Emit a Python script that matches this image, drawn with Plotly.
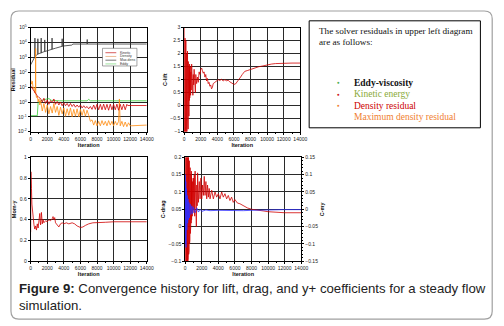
import plotly.graph_objects as go

W, H = 504, 326
OFF = 8  # page body margin offset

# ---------------- data ----------------
iter_ticks = [0, 2000, 4000, 6000, 8000, 10000, 12000, 14000]
res_tickvals = [0.01, 0.1, 1, 10, 100, 1000, 10000, 100000]
res_ticktext = ["10<sup>-2</sup>", "10<sup>-1</sup>", "10<sup>0</sup>", "10<sup>1</sup>",
                "10<sup>2</sup>", "10<sup>3</sup>", "10<sup>4</sup>", "10<sup>5</sup>"]

# top-left: residuals (log scale)
res_x = [0, 200, 400, 600, 800, 1000, 1200, 1400, 1600, 1800,
         2000, 2200, 2400, 2600, 2800, 3000, 3200, 3400, 3600, 3800,
         4000, 4200, 4400, 4600, 4800, 5000, 5200, 5400, 5600, 5800,
         6000, 6200, 6400, 6600, 6800, 7000, 7200, 7400, 7600, 7800,
         8000, 8200, 8400, 8600, 8800, 9000, 9200, 9400, 9600, 9800,
         10000, 10200, 10400, 10600, 10800, 11000, 11200, 11400, 11600, 11700,
         14000]
kinetic_res = [12, 8, 5.6, 4, 2.6, 2.0, 1.7, 1.0, 1.8, 0.8,
               1.4, 0.7, 1.26, 0.9, 1.6, 0.7, 1.1, 0.63, 1.0, 0.56,
               0.9, 0.56, 0.8, 0.5, 0.8, 0.5, 0.7, 0.45, 0.63, 0.45,
               0.63, 0.4, 0.56, 0.4, 0.5, 0.35, 0.5, 0.32, 0.63, 0.32,
               0.7, 0.3, 0.7, 0.3, 0.72, 0.3, 0.7, 0.28, 0.72, 0.3,
               0.7, 0.3, 0.72, 0.28, 0.7, 0.3, 0.72, 0.3, 0.7, 0.58,
               0.58]

den_x = [0, 100, 200, 300, 400, 500, 580, 600, 620, 700,
         800, 900, 1000, 1100, 1200, 1400, 1600, 1800, 2000, 2200,
         2400, 2600, 2800, 3000, 3200, 3400, 3600, 3800, 4000, 4200,
         4400, 4600, 4800, 5000, 5200, 5400, 5600, 5800, 6000, 6200,
         6400, 6600, 6800, 7000, 7200, 7400, 7600, 7800, 8000, 8200,
         8400, 8600, 8800, 9000, 9200, 9400, 9600, 9800, 10000, 10200,
         10400, 10600, 10700, 10800, 11000, 11200, 11400, 11600, 11800, 12000,
         14000]
density_res = [32, 16, 25, 8, 10, 4, 5, 4000, 4, 2,
               2.5, 1.0, 1.6, 0.63, 1.26, 0.25, 0.8, 0.2, 0.63, 0.16,
               0.5, 0.18, 0.8, 0.2, 0.5, 0.126, 0.45, 0.16, 0.4, 0.11,
               0.35, 0.126, 0.4, 0.1, 0.32, 0.11, 0.35, 0.1, 0.32, 0.126,
               0.32, 0.11, 0.28, 0.126, 0.05, 0.063, 0.028, 0.056, 0.025, 0.05,
               0.025, 0.056, 0.028, 0.05, 0.025, 0.056, 0.028, 0.05, 0.025, 0.05,
               0.028, 0.05, 1.6, 0.025, 0.05, 0.022, 0.045, 0.022, 0.04, 0.025,
               0.028]

eddy_x = [0, 700, 800, 900, 1000, 1500, 2000, 2200, 2500, 3500, 6800, 7000, 7200, 14000]
eddy_res = [0.12, 0.12, 0.12, 0.9, 1.0, 1.4, 1.6, 1.7, 1.3, 1.2, 1.2, 1.5, 1.2, 1.2]

max_x = [0, 200, 400, 515, 515, 515, 700, 870, 870, 870,
         1000, 1270, 1270, 1270, 1500, 1700, 1700, 1700, 2000, 2580,
         2580, 2580, 3000, 3570, 3800, 3800, 3800, 4000, 4500, 4960,
         5100, 6820, 6820, 6820, 14000]
max_res = [316, 560, 890, 1120, 20000, 1120, 1400, 1660, 18000, 1660,
           1820, 2000, 20000, 2000, 2300, 2500, 15000, 2500, 2800, 3550,
           20000, 3550, 4170, 5250, 5600, 18000, 5600, 5900, 6300, 6760,
           7940, 7940, 16000, 7940, 7940]

legend_names = ["Kinetic", "Density", "Max.dens", "Eddy"]

# top-right: lift coefficient
cl_x = [0, 25, 50, 75, 100, 125, 150, 175, 200, 225,
        250, 275, 300, 325, 350, 375, 400, 425, 450, 475,
        500, 525, 550, 575, 600, 625, 650, 675, 700, 725,
        750, 775, 800, 850, 900, 950, 1000, 1050, 1100, 1150,
        1200, 1250, 1300, 1350, 1400, 1500, 1600, 1700, 1800, 1900,
        2000, 2100, 2200, 2300, 2400, 2500, 2600, 2700, 2800, 2900,
        3000, 3100, 3200, 3300, 3400, 3500, 3700, 3900, 4100, 4300,
        4500, 4700, 4900, 5100, 5300, 5500, 5800, 6000, 6200, 6500,
        6800, 7000, 7300, 7600, 8000, 8500, 9000, 9500, 10000, 10500,
        11000, 11500, 12000, 13000, 14000]
cl_y = [3.0, -1.0, 2.8, -0.9, 2.6, -1.0, 2.3, -0.8, 2.5, -1.0,
        2.1, -0.6, 2.0, -1.0, 1.9, -0.5, 2.1, -0.3, 1.8, -0.9,
        1.7, 0.0, 1.6, -0.4, 1.5, 0.2, 1.6, 0.3, 1.4, 0.5,
        1.5, 0.4, 1.3, 0.6, 1.6, 0.7, 1.3, 0.4, 1.2, 0.8,
        1.4, 0.7, 1.1, 0.5, 1.2, 0.85, 1.1, 0.9, 1.3, 1.2,
        1.4, 1.45, 1.35, 1.25, 1.3, 1.1, 1.2, 0.95, 1.05, 0.85,
        0.9, 0.75, 0.8, 0.65, 0.7, 0.85, 0.9, 0.95, 1.0, 0.97,
        1.02, 0.95, 1.0, 0.96, 0.98, 0.92, 0.87, 0.82, 0.84, 0.95,
        1.1, 1.2, 1.32, 1.35, 1.4, 1.46, 1.5, 1.53, 1.57, 1.6,
        1.62, 1.63, 1.64, 1.64, 1.64]

# bottom-left: moment
my_x = [0, 30, 60, 100, 150, 200, 300, 400, 500, 600,
        700, 800, 900, 1000, 1100, 1150, 1200, 1300, 1400, 1500,
        1600, 1800, 2000, 2200, 2400, 2600, 2700, 2800, 2900, 3000,
        3200, 3400, 3600, 3800, 4000, 4300, 4600, 5000, 5300, 5600,
        6000, 6300, 6600, 7000, 7500, 8000, 9000, 10000, 12000, 14000]
my_y = [0.28, 0.86, 0.6, 0.7, 0.55, 0.5, 0.42, 0.35, 0.31, 0.34,
        0.30, 0.36, 0.32, 0.42, 0.46, 0.38, 0.35, 0.47, 0.36, 0.40,
        0.37, 0.39, 0.38, 0.40, 0.39, 0.41, 0.43, 0.40, 0.42, 0.37,
        0.35, 0.33, 0.36, 0.37, 0.36, 0.37, 0.36, 0.37, 0.36, 0.34,
        0.325, 0.33, 0.345, 0.36, 0.37, 0.37, 0.375, 0.38, 0.38, 0.38]

# bottom-right: drag (left axis) and C-my (right axis)
cd_x = [0, 25, 50, 75, 100, 125, 150, 175, 200, 225,
        250, 275, 300, 325, 350, 375, 400, 425, 450, 475,
        500, 525, 550, 575, 600, 625, 650, 675, 700, 725,
        750, 775, 800,
        850, 900, 950, 1000, 1050, 1100, 1150, 1200, 1250, 1300,
        1350, 1400, 1450, 1500, 1600, 1700, 1800, 1900, 2000, 2100,
        2200, 2300, 2400, 2500, 2600, 2700, 2800, 2900, 3000, 3200,
        3400, 3600, 3800, 4000, 4200, 4400, 4600, 4800, 5000, 5200,
        5400, 5600, 5800, 6000, 6300, 6600, 6900, 7200, 7500, 8000,
        8500, 9000, 9500, 10000, 11000, 12000, 14000]
cd_y = [0.2, -0.1, 0.2, -0.1, 0.2, -0.1, 0.2, -0.1, 0.2, -0.1,
        0.2, -0.1, 0.2, -0.1, 0.2, -0.09, 0.2, -0.08, 0.2, -0.07,
        0.19, -0.05, 0.18, -0.04, 0.17, -0.02, 0.16, 0.0, 0.15, 0.01,
        0.16, 0.02, 0.14,
        0.03, 0.13, 0.04, 0.14, 0.05, 0.15, 0.03, 0.16, 0.06, 0.13,
        0.0, 0.12, 0.06, 0.155, 0.07, 0.13, 0.08, 0.14, 0.08, 0.12,
        0.09, 0.145, 0.09, 0.13, 0.08, 0.12, 0.085, 0.11, 0.08, 0.105,
        0.08, 0.1, 0.085, 0.095, 0.08, 0.1, 0.085, 0.095, 0.08, 0.09,
        0.075, 0.085, 0.07, 0.078, 0.068, 0.066, 0.062, 0.058, 0.054, 0.05,
        0.049, 0.047, 0.045, 0.043, 0.041, 0.04, 0.04]

cm_x = [0, 25, 50, 75, 100, 125, 150, 175, 200, 250,
        300, 350, 400, 450, 500, 600, 700, 800, 900, 1000,
        1200, 1400, 1600, 1800, 2000, 2500, 3000, 4000, 5000, 6000,
        7000, 8000, 9000, 10000, 12000, 14000]
cm_y = [0.0, 0.1, -0.1, 0.08, -0.11, 0.06, -0.08, 0.05, -0.06, 0.04,
        -0.04, 0.03, -0.03, 0.02, -0.025, 0.015, -0.015, 0.01, -0.012, 0.006,
        -0.01, 0.004, -0.008, 0.0, -0.006, -0.002, -0.004, -0.003, -0.004, -0.003,
        -0.004, -0.003, -0.002, -0.002, -0.001, -0.001]

box_lines = ["The solver residuals in upper left diagram", "are as follows:"]
box_items = [("Eddy-viscosity", "#111111", "#4caf50", True),
             ("Kinetic energy", "#8aaa3a", "#cc1111", False),
             ("Density residual", "#cc0000", "#f08030", False),
             ("Maximum density residual", "#f08030", None, False)]
caption1 = "<b>Figure 9:</b> Convergence history for lift, drag, and y+ coefficients for a steady flow"
caption2 = "simulation."

# ---------------- helpers (page pixel -> paper) ----------------
def px(x):
    return (x - OFF) / W

def py(y):
    return 1 - (y - OFF) / H

RED = "#d00000"
SANS = "Arial, Liberation Sans, sans-serif"
SERIF = "Times New Roman, Liberation Serif, serif"

fig = go.Figure()

def line(x, y, color, xa, ya, width=0.8):
    fig.add_trace(go.Scatter(x=x, y=y, mode="lines", xaxis=xa, yaxis=ya,
                             line=dict(color=color, width=width), showlegend=False,
                             hoverinfo="skip"))

line(max_x, max_res, "#333333", "x", "y")
line(eddy_x, eddy_res, "#33cc33", "x", "y")
line(den_x, density_res, "#ff8c10", "x", "y")
line(res_x, kinetic_res, RED, "x", "y")

line(cl_x, cl_y, RED, "x2", "y2")
line(my_x, my_y, RED, "x3", "y3")
line(cd_x, cd_y, RED, "x4", "y4")
line(cm_x, cm_y, "#3030ff", "x4", "y5")

tickfont = dict(family=SANS, size=5, color="#222")
titlefont = dict(family=SANS, size=5.5, color="#111")

def xax(dom, anchor):
    return dict(domain=dom, anchor=anchor, range=[0, 14000], tickvals=iter_ticks,
                tickformat="d",
                showgrid=True, gridcolor="#2a2a2a", gridwidth=0.8, zeroline=False,
                showline=True, linecolor="#000", linewidth=0.9, mirror=True,
                ticks="outside", ticklen=2, tickwidth=0.6, tickcolor="#000",
                tickfont=tickfont, title=dict(text="<b>Iteration</b>", font=titlefont, standoff=1),
                minor=dict(ticks="outside", ticklen=1, tickwidth=0.5, nticks=5, showgrid=False))

def yax(dom, anchor, title, **kw):
    d = dict(domain=dom, anchor=anchor, showgrid=True, gridcolor="#2a2a2a", gridwidth=0.8,
             zeroline=False, showline=True, linecolor="#000", linewidth=0.9, mirror=True,
             ticks="outside", ticklen=2, tickwidth=0.6, tickcolor="#000",
             tickfont=tickfont, title=dict(text="<b>" + title + "</b>", font=titlefont, standoff=2))
    d.update(kw)
    return d

top = [py(131), py(25)]
bot = [py(263), py(157)]

fig.update_layout(
    width=W, height=H, margin=dict(l=0, r=0, t=0, b=0),
    paper_bgcolor="white", plot_bgcolor="white", showlegend=False,
    xaxis=xax([px(30), px(148)], "y"),
    yaxis=yax(top, "x", "Residual", type="log", range=[-2, 5],
              tickvals=res_tickvals, ticktext=res_ticktext),
    xaxis2=xax([px(186), px(304)], "y2"),
    yaxis2=yax(top, "x2", "C-lift", range=[-1, 3], dtick=0.5),
    xaxis3=xax([px(30), px(148)], "y3"),
    yaxis3=yax(bot, "x3", "Mom-y", range=[0, 1], dtick=0.2),
    xaxis4=xax([px(187), px(305)], "y4"),
    yaxis4=yax(bot, "x4", "C-drag", range=[-0.1, 0.2], dtick=0.05),
    yaxis5=dict(overlaying="y4", anchor="x4", side="right", range=[-0.15, 0.15], dtick=0.05,
                showgrid=False, zeroline=False, showline=False,
                ticks="outside", ticklen=2, tickwidth=0.6, tickcolor="#000", tickfont=tickfont,
                minor=dict(ticks="outside", ticklen=1, tickwidth=0.5, nticks=5),
                title=dict(text="<b>C-my</b>", font=titlefont, standoff=2)),
)

shapes = []
ann = []

# outer rounded frame
x0, y0, x1, y1, r = 10, 8, 499, 322, 8
path = (f"M {px(x0 + r)},{py(y0)} L {px(x1 - r)},{py(y0)} Q {px(x1)},{py(y0)} {px(x1)},{py(y0 + r)} "
        f"L {px(x1)},{py(y1 - r)} Q {px(x1)},{py(y1)} {px(x1 - r)},{py(y1)} "
        f"L {px(x0 + r)},{py(y1)} Q {px(x0)},{py(y1)} {px(x0)},{py(y1 - r)} "
        f"L {px(x0)},{py(y0 + r)} Q {px(x0)},{py(y0)} {px(x0 + r)},{py(y0)} Z")
shapes.append(dict(type="path", xref="paper", yref="paper", path=path,
                   line=dict(color="#a0a0a0", width=1.2), layer="below"))

# text box
shapes.append(dict(type="rect", xref="paper", yref="paper", x0=px(313), x1=px(487),
                   y0=py(127), y1=py(18), line=dict(color="#000", width=1)))
for i, t in enumerate(box_lines):
    ann.append(dict(xref="paper", yref="paper", x=px(321), y=py(28 + 12 * i), text=t,
                    showarrow=False, xanchor="left", yanchor="middle",
                    font=dict(family=SERIF, size=9.2, color="#111")))
for i, (t, col, bcol, bold) in enumerate(box_items):
    yy = py(81 + 11.7 * i)
    if bcol:
        ann.append(dict(xref="paper", yref="paper", x=px(343), y=yy, text="●", showarrow=False,
                        xanchor="center", yanchor="middle",
                        font=dict(family=SANS, size=4.5, color=bcol)))
    ann.append(dict(xref="paper", yref="paper", x=px(357), y=yy,
                    text=("<b>%s</b>" % t) if bold else t, showarrow=False,
                    xanchor="left", yanchor="middle",
                    font=dict(family=SERIF, size=9.5, color=col)))

# small legend inside the residual plot
shapes.append(dict(type="rect", xref="paper", yref="paper", x0=px(103), x1=px(138),
                   y0=py(64), y1=py(46), line=dict(color="#666", width=0.6), fillcolor="white"))
leg_cols = ["#cc3333", "#e8a878", "#555555", "#88dd88"]
for i, (nm, c) in enumerate(zip(legend_names, leg_cols)):
    yy = py(50.5 + 3.8 * i)
    shapes.append(dict(type="line", xref="paper", yref="paper", x0=px(106), x1=px(117),
                       y0=yy, y1=yy, line=dict(color=c, width=0.8)))
    ann.append(dict(xref="paper", yref="paper", x=px(119), y=yy, text=nm, showarrow=False,
                    xanchor="left", yanchor="middle",
                    font=dict(family=SANS, size=3.5, color="#333")))

# caption
ann.append(dict(xref="paper", yref="paper", x=px(16), y=py(291), text=caption1, showarrow=False,
                xanchor="left", yanchor="middle", font=dict(family=SANS, size=13.2, color="#222")))
ann.append(dict(xref="paper", yref="paper", x=px(16), y=py(308), text=caption2, showarrow=False,
                xanchor="left", yanchor="middle", font=dict(family=SANS, size=13.2, color="#222")))

fig.update_layout(shapes=shapes, annotations=ann)
fig.write_html("out.html", config=dict(displayModeBar=False))
